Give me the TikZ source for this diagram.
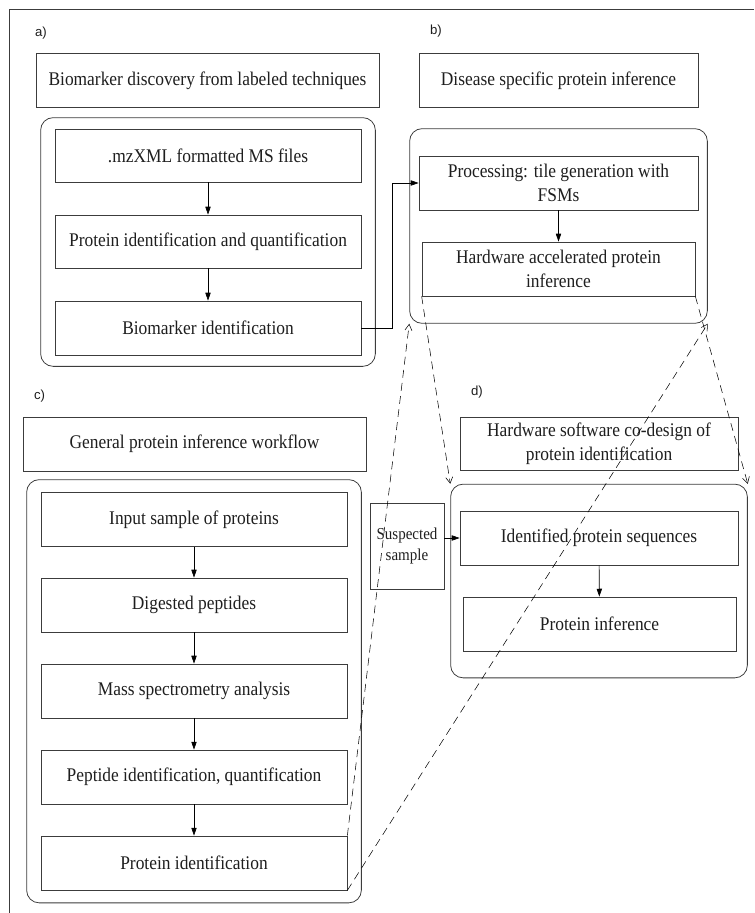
\documentclass[tikz,border=0pt]{standalone}
\usepackage{fontspec}
\setmainfont{Liberation Serif}[FakeStretch=0.9]
\newfontfamily\tagfont{Liberation Sans}
\usepackage{tikz}
\usetikzlibrary{arrows.meta, positioning, calc, fit}
\definecolor{myline}{RGB}{60,60,60}
\definecolor{mytext}{RGB}{30,30,30}
\tikzset{
  box/.style={rectangle, draw=myline, align=center, minimum height=2.16cm,
    inner sep=2pt, font=\fontsize{22}{27}\selectfont, text=mytext, line width=0.8pt},
  group/.style={rectangle, draw=myline, rounded corners=0.5cm, line width=0.9pt},
  tag/.style={anchor=west, font=\tagfont\fontsize{15}{18}\selectfont, text=mytext},
  arrow/.style={-{Triangle[length=9pt,width=6pt]}, line width=0.7pt, color=black},
  dasharrow/.style={-{Straight Barb[length=7pt,width=8pt]}, dash pattern=on 9pt off 6pt,
    line width=0.6pt, color=black},
  line/.style={line width=0.9pt, color=myline}
}
\begin{document}
\begin{tikzpicture}
  \useasboundingbox (0,0) rectangle (30.16,-36.52);
  % frame
  \draw[line] (30.16,-0.36) -- (0.36,-0.36) -- (0.36,-36.52);

  % a) labeled techniques
  \node[tag] (taga) at (1.28,-1.32) {a)};
  \node[box, minimum width=13.72cm] (tita) at (8.3,-3.22) {Biomarker discovery from labeled techniques};
  \node[box, minimum width=12.24cm, minimum height=2.12cm] (mz) at (8.32,-6.22) {.mzXML formatted MS files};
  \node[box, minimum width=12.24cm, minimum height=2.12cm] (piq) at (8.32,-9.66) {Protein identification and quantification};
  \node[box, minimum width=12.24cm] (bmi) at (8.32,-13.12) {Biomarker identification};
  \node[group, fit=(mz)(bmi), inner xsep=0.56cm, inner ysep=0.44cm] (grpa) {};

  % b) disease specific
  \node[tag] (tagb) at (17.08,-1.24) {b)};
  \node[box, minimum width=11.16cm] (titb) at (22.34,-3.22) {Disease specific protein inference};
  \node[box, minimum width=11.16cm] (proc) at (22.34,-7.32) {Processing: tile generation with\\FSMs};
  \node[box, minimum width=10.92cm] (hwacc) at (22.34,-10.76) {Hardware accelerated protein\\inference};
  \node[group, fit=(proc)(hwacc), inner xsep=0.36cm, inner ysep=1.08cm] (grpb) {};

  % c) general workflow
  \node[tag] (tagc) at (1.24,-15.84) {c)};
  \node[box, minimum width=13.72cm] (titc) at (7.78,-17.76) {General protein inference workflow};
  \node[box, minimum width=12.24cm] (inp) at (7.76,-20.78) {Input sample of proteins};
  \node[box, minimum width=12.24cm] (dig) at (7.76,-24.2) {Digested peptides};
  \node[box, minimum width=12.24cm] (msa) at (7.76,-27.64) {Mass spectrometry analysis};
  \node[box, minimum width=12.24cm] (pep) at (7.76,-31.08) {Peptide identification, quantification};
  \node[box, minimum width=12.24cm] (pid) at (7.76,-34.52) {Protein identification};
  \node[group, fit=(inp)(pid), inner xsep=0.56cm, inner ysep=0.5cm] (grpc) {};

  % d) co-design
  \node[tag] (tagd) at (18.72,-15.68) {d)};
  \node[box, minimum width=11.12cm, minimum height=2.12cm] (titd) at (23.96,-17.74) {Hardware software co-design of\\protein identification};
  \node[box, minimum width=11.12cm] (ident) at (23.96,-21.52) {Identified protein sequences};
  \node[box, minimum width=10.92cm] (pinf) at (23.98,-24.96) {Protein inference};
  \node[group, fit=(ident)(pinf), inner xsep=0.36cm, inner ysep=1.06cm] (grpd) {};
  \node[box, minimum width=2.96cm, minimum height=3.44cm, inner sep=1pt,
    font=\fontsize{19}{24}\selectfont] (susp) at (16.28,-21.84) {Suspected\\sample};

  % connections
  \draw[arrow] (mz) -- (piq);
  \draw[arrow] (piq) -- (bmi);
  \draw[arrow] (bmi.east) -- ++(1.24,0) |- (proc.west);
  \draw[arrow] (proc) -- (hwacc);
  \draw[arrow] (inp) -- (dig);
  \draw[arrow] (dig) -- (msa);
  \draw[arrow] (msa) -- (pep);
  \draw[arrow] (pep) -- (pid);
  \draw[arrow] (susp.east |- ident.west) -- (ident.west);
  \draw[arrow] (ident) -- (pinf);

  % dashed links
  \draw[dasharrow] (pid.north east) -- (grpb.south west);
  \draw[dasharrow] (pid.south east) -- (grpb.south east);
  \draw[dasharrow] (hwacc.south west) -- (grpd.north west);
  \draw[dasharrow] (hwacc.south east) -- (grpd.north east);
\end{tikzpicture}
\end{document}
